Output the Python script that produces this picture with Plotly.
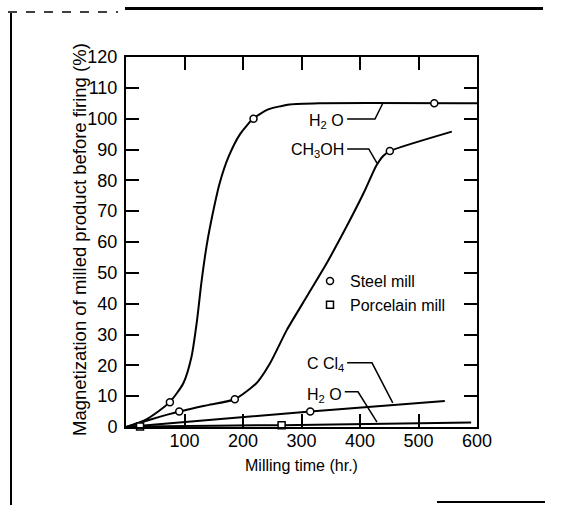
import plotly.graph_objects as go

# Milling time (hr) and magnetization (%)
h2o_steel_curve_t = [0, 35, 74, 98, 112, 121, 129, 138, 148, 160, 175, 195, 218, 243, 280, 330, 600]
h2o_steel_curve_m = [0, 2.5, 7.9, 14.2, 22.8, 34, 47, 59, 69, 79, 87.5, 95, 100.1, 103, 104.6, 105, 105]

ch3oh_curve_t = [0, 45, 91, 140, 186, 223, 246, 275, 309, 343, 377, 406, 428, 440, 451, 557]
ch3oh_curve_m = [0, 2.6, 5.0, 7.1, 9.0, 14.2, 20.6, 31.5, 42.3, 53.1, 65, 75.8, 84.8, 88, 89.5, 95.8]

ccl4_curve_t = [0, 315, 545]
ccl4_curve_m = [0, 5.0, 8.4]

h2o_porcelain_curve_t = [0, 24, 266, 590]
h2o_porcelain_curve_m = [0, 0.2, 0.6, 1.5]

# Measured points
steel_t = [75, 218, 527, 91, 186, 451, 315]
steel_m = [8, 100, 105, 5, 9, 89.5, 5.0]
porcelain_t = [24, 266]
porcelain_m = [0.2, 0.6]

x_ticks = [100, 200, 300, 400, 500, 600]
y_ticks = list(range(0, 121, 10))

TEXT_FONT = "Liberation Sans, Arial, sans-serif"
TICK_FONT = "Liberation Sans, Arial, sans-serif"

fig = go.Figure()

line_style = dict(color="black", width=2, shape="spline", smoothing=0.6)
for t, m in [(h2o_steel_curve_t, h2o_steel_curve_m),
             (ch3oh_curve_t, ch3oh_curve_m),
             (ccl4_curve_t, ccl4_curve_m),
             (h2o_porcelain_curve_t, h2o_porcelain_curve_m)]:
    fig.add_trace(go.Scatter(x=t, y=m, mode="lines", line=line_style,
                             showlegend=False, hoverinfo="skip", cliponaxis=False))

fig.add_trace(go.Scatter(
    x=steel_t, y=steel_m, mode="markers", name="Steel mill",
    marker=dict(symbol="circle", size=7, color="white", line=dict(color="black", width=1.5)),
    cliponaxis=False))
fig.add_trace(go.Scatter(
    x=porcelain_t, y=porcelain_m, mode="markers", name="Porcelain mill",
    marker=dict(symbol="square", size=7, color="white", line=dict(color="black", width=1.5)),
    cliponaxis=False))

# Curve labels with leader lines
labels = [
    ("H<sub>2</sub> O", [(378, 99.9), (425.6, 99.9), (439, 105)], 99.2),
    ("CH<sub>3</sub>OH", [(378, 90.2), (415, 90.2), (429, 85.6)], 89.6),
    ("C Cl<sub>4</sub>", [(378, 20.8), (420.5, 20.8), (456, 7.8)], 20.2),
    ("H<sub>2</sub> O", [(374, 11.4), (396.6, 11.4), (429, 1.6)], 10.2),
]
for text, pts, ty in labels:
    path = "M " + " L ".join(f"{x},{y}" for x, y in pts)
    fig.add_shape(type="path", path=path, xref="x", yref="y",
                  line=dict(color="black", width=1.5))
    fig.add_annotation(x=pts[0][0], y=ty, text=text, showarrow=False,
                       xanchor="right", yanchor="middle", xshift=-1,
                       font=dict(family=TEXT_FONT, size=16, color="black"))

# Axis titles
fig.add_annotation(x=0.4986, y=-0.103, xref="paper", yref="paper",
                   text="Milling time (hr.)", showarrow=False,
                   xanchor="center", yanchor="middle",
                   font=dict(family=TEXT_FONT, size=16, color="black"))
fig.add_annotation(x=-0.134, y=0.508, xref="paper", yref="paper",
                   text="Magnetization of milled product before firing (%)",
                   showarrow=False, textangle=-90,
                   xanchor="center", yanchor="middle",
                   font=dict(family=TEXT_FONT, size=18.5, color="black"))

# Page border lines around the figure
W, H = 351.0, 370.0
def px(x):
    return (x - 126) / W
def py(y):
    return (427 - y) / H

fig.add_shape(type="line", xref="paper", yref="paper",
              x0=px(11), x1=px(11), y0=py(13), y1=py(505),
              line=dict(color="black", width=2))
fig.add_shape(type="line", xref="paper", yref="paper",
              x0=px(8), x1=px(118), y0=py(12), y1=py(12),
              line=dict(color="black", width=1.5, dash="dash"))
fig.add_shape(type="line", xref="paper", yref="paper",
              x0=px(125), x1=px(543), y0=py(8.5), y1=py(8.5),
              line=dict(color="black", width=3))
fig.add_shape(type="line", xref="paper", yref="paper",
              x0=px(437), x1=px(545), y0=py(502), y1=py(502),
              line=dict(color="black", width=2))

axis_style = dict(ticks="inside", ticklen=13, tickwidth=2, tickcolor="black",
                  showline=True, linewidth=2, linecolor="black", mirror="ticks",
                  showgrid=False, zeroline=False,
                  tickfont=dict(family=TICK_FONT, size=18, color="black"))
fig.update_xaxes(range=[0, 600], tickvals=x_ticks, ticklabelstandoff=-4, **axis_style)
fig.update_yaxes(range=[0, 120], tickvals=y_ticks, ticklabelstandoff=3, **axis_style)

fig.update_layout(
    width=567, height=505,
    margin=dict(l=126, r=90, t=57, b=78),
    paper_bgcolor="white", plot_bgcolor="white",
    showlegend=True,
    legend=dict(x=px(310), y=py(264), xanchor="left", yanchor="top",
                bgcolor="rgba(0,0,0,0)", borderwidth=0, itemwidth=30,
                font=dict(family=TEXT_FONT, size=16, color="black"),
                tracegroupgap=0),
)

fig.write_html("out.html")
